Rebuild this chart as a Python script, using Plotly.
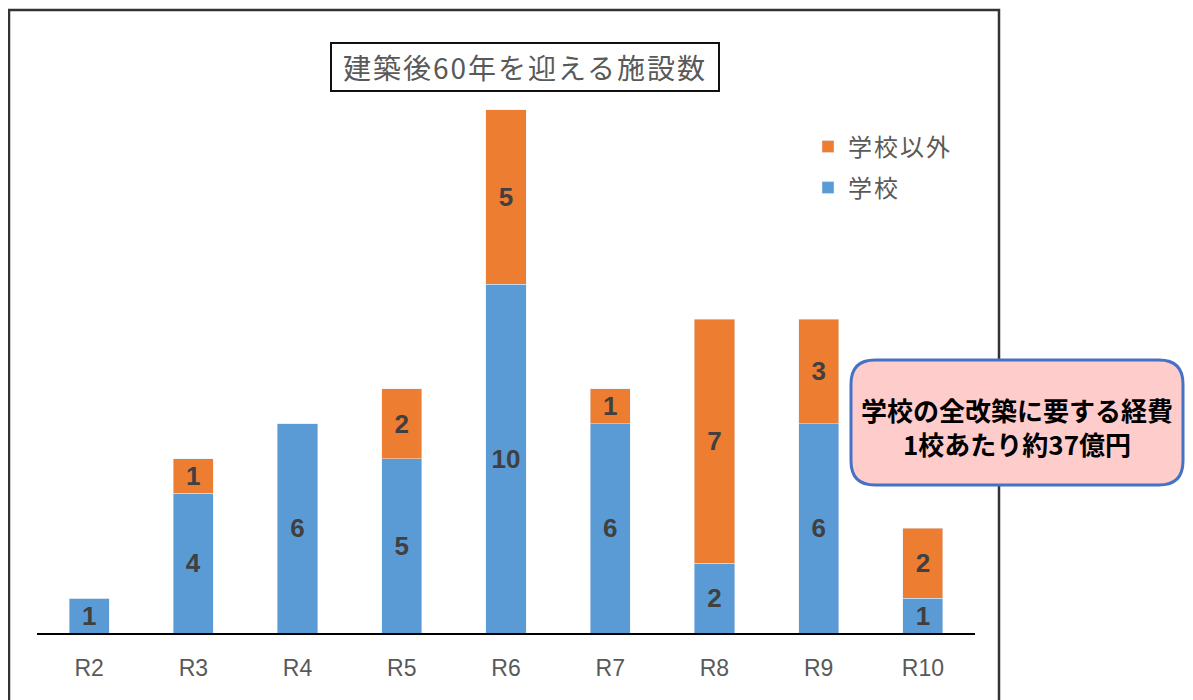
import plotly.graph_objects as go

categories = ["R2", "R3", "R4", "R5", "R6", "R7", "R8", "R9", "R10"]
school = [1, 4, 6, 5, 10, 6, 2, 6, 1]
non_school = [0, 1, 0, 2, 5, 1, 7, 3, 2]
name_school = "学校"
name_non_school = "学校以外"
title_text = "建築後60年を迎える施設数"
note_text = "学校の全改築に要する経費<br>1校あたり約37億円"

O = 8  # page body margin offset
W, H = 1185, 692
L, R, T, B = 29, 218, 32, 67
PW, PH = W - L - R, H - T - B
Y_TOP = 17.0

def px(x):
    return (x - O - L) / PW

def py(y):
    return (H - B - (y - O)) / PH

BLUE = "#5B9BD5"
ORANGE = "#ED7D31"
LABEL = "#404040"
GRAY = "#595959"
JP = "Noto Sans CJK JP"

def spaced(s, n):
    return f"<span style='letter-spacing:{n}px'>{s}</span>"

fig = go.Figure()
fig.add_trace(go.Bar(
    x=categories, y=school, name=spaced(name_school, 2), marker_color=BLUE,
    text=[str(v) if v else "" for v in school], textposition="inside",
    insidetextanchor="middle", constraintext="none", textangle=0,
    textfont=dict(family="Liberation Sans", size=26, color=LABEL, weight="bold"),
    legend="legend2", hoverinfo="x+y",
))
fig.add_trace(go.Bar(
    x=categories, y=non_school, name=spaced(name_non_school, 2), marker_color=ORANGE,
    text=[str(v) if v else "" for v in non_school], textposition="inside",
    insidetextanchor="middle", constraintext="none", textangle=0,
    textfont=dict(family="Liberation Sans", size=26, color=LABEL, weight="bold"),
    legend="legend", hoverinfo="x+y",
))

legend_common = dict(
    xanchor="left", yanchor="middle", bgcolor="rgba(0,0,0,0)",
    font=dict(family=JP, size=24, color=GRAY), borderwidth=0,
)

shapes = [
    dict(type="rect", xref="paper", yref="paper",
         x0=px(9), x1=px(999), y0=py(720), y1=py(10),
         line=dict(color="#333333", width=2.5), fillcolor="rgba(0,0,0,0)", layer="above"),
]

bx0, bx1, by0, by1, rr = 851, 1183, 360, 485, 24
path = (
    f"M {px(bx0+rr)},{py(by0)} L {px(bx1-rr)},{py(by0)} "
    f"Q {px(bx1)},{py(by0)} {px(bx1)},{py(by0+rr)} "
    f"L {px(bx1)},{py(by1-rr)} Q {px(bx1)},{py(by1)} {px(bx1-rr)},{py(by1)} "
    f"L {px(bx0+rr)},{py(by1)} Q {px(bx0)},{py(by1)} {px(bx0)},{py(by1-rr)} "
    f"L {px(bx0)},{py(by0+rr)} Q {px(bx0)},{py(by0)} {px(bx0+rr)},{py(by0)} Z"
)
shapes.append(dict(type="path", xref="paper", yref="paper", path=path,
                   fillcolor="#FFCCCC", line=dict(color="#4472C4", width=3), layer="above"))

annotations = [
    dict(xref="paper", yref="paper", x=px(525), y=py(67), xanchor="center", yanchor="middle",
         text=spaced(title_text, 2), showarrow=False,
         font=dict(family=JP, size=28, color=GRAY),
         bordercolor="#111111", borderwidth=2, borderpad=0, bgcolor="white",
         width=386, height=46),
    dict(xref="paper", yref="paper", x=px(1017), y=py(426), xanchor="center", yanchor="middle",
         text=note_text, showarrow=False,
         font=dict(family=JP, size=26, color="black", weight="bold")),
]

fig.update_layout(
    width=W, height=H, margin=dict(l=L, r=R, t=T, b=B),
    paper_bgcolor="white", plot_bgcolor="white",
    barmode="stack", bargap=0.615,
    showlegend=True,
    legend=dict(x=px(808), y=py(147), **legend_common),
    legend2=dict(x=px(808), y=py(188), **legend_common),
    xaxis=dict(showline=True, linecolor="black", linewidth=2, ticks="",
               ticklabelstandoff=13,
               tickfont=dict(family="Liberation Sans", size=23, color=GRAY),
               showgrid=False, zeroline=False, fixedrange=True),
    yaxis=dict(range=[0, Y_TOP], visible=False, showgrid=False, zeroline=False, fixedrange=True),
    shapes=shapes, annotations=annotations,
)

fig.write_html("out.html")
